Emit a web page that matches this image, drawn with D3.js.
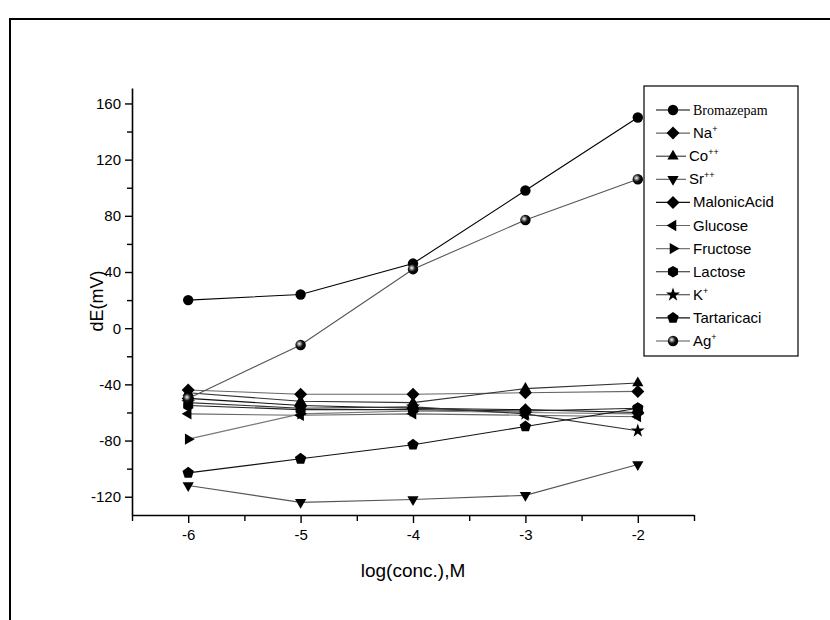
<!DOCTYPE html>
<html>
<head>
<meta charset="utf-8">
<script src="https://cdn.jsdelivr.net/npm/d3@7"></script>
<style>
  body { margin: 0; background: #fff; }
  svg text { fill: #000; }
</style>
</head>
<body>
<svg id="chart" width="830" height="620"></svg>
<script>
// log concentration (x) and potential change dE in mV for each species
const logConc = [-6, -5, -4, -3, -2];
const bromazepam = [20, 24, 46, 98, 150];
const sodium = [-44, -47, -47, -46, -45];
const cobalt = [-46, -52, -53, -43, -39];
const strontium = [-112, -124, -122, -119, -97];
const malonicAcid = [-50, -55, -57, -58, -60];
const glucose = [-61, -62, -61, -62, -63];
const fructose = [-79, -61, -59, -60, -61];
const lactose = [-55, -58, -58, -59, -57];
const potassium = [-53, -57, -56, -61, -73];
const tartaric = [-103, -93, -83, -70, -57];
const silver = [-50, -12, 42, 77, 106];

const xTicks = [-6, -5, -4, -3, -2];
const yTicks = [-120, -80, -40, 0, 40, 80, 120, 160];

const series = [
  {name: "Bromazepam", sup: "", values: bromazepam, shape: "circle", color: "#000", serif: true},
  {name: "Na", sup: "+", values: sodium, shape: "diamond", color: "#666"},
  {name: "Co", sup: "++", values: cobalt, shape: "triUp", color: "#333", tight: true},
  {name: "Sr", sup: "++", values: strontium, shape: "triDown", color: "#555", tight: true},
  {name: "MalonicAcid", sup: "", values: malonicAcid, shape: "diamond", color: "#111"},
  {name: "Glucose", sup: "", values: glucose, shape: "triLeft", color: "#666"},
  {name: "Fructose", sup: "", values: fructose, shape: "triRight", color: "#777"},
  {name: "Lactose", sup: "", values: lactose, shape: "hexagon", color: "#222"},
  {name: "K", sup: "+", values: potassium, shape: "star", color: "#333"},
  {name: "Tartaricaci", sup: "", values: tartaric, shape: "pentagon", color: "#111"},
  {name: "Ag", sup: "+", values: silver, shape: "sphere", color: "#555"}
];

const sans = "'Liberation Sans', Arial, sans-serif";
const serif = "'Liberation Serif', 'Times New Roman', serif";

const svg = d3.select("#chart");

// outer frame (cut by the page edge on the right and bottom)
svg.append("rect").attr("x", 10).attr("y", 19).attr("width", 900).attr("height", 700)
  .attr("fill", "none").attr("stroke", "#000").attr("stroke-width", 2);

const defs = svg.append("defs");
const grad = defs.append("radialGradient").attr("id", "ball").attr("cx", "38%").attr("cy", "38%").attr("r", "62%");
grad.append("stop").attr("offset", "0%").attr("stop-color", "#fff");
grad.append("stop").attr("offset", "22%").attr("stop-color", "#999");
grad.append("stop").attr("offset", "55%").attr("stop-color", "#111");
grad.append("stop").attr("offset", "100%").attr("stop-color", "#000");

const x = d3.scaleLinear().domain([-6.5, -1.5]).range([132, 694]);
const y = d3.scaleLinear().domain([-133, 171]).range([515, 88]);

function polygon(n, r, start) {
  const pts = d3.range(n).map(i => {
    const a = (start + i * 360 / n) * Math.PI / 180;
    return [r * Math.cos(a), r * Math.sin(a)];
  });
  return "M" + pts.map(p => p.join(",")).join("L") + "Z";
}

function markerPath(shape) {
  switch (shape) {
    case "circle":
    case "sphere": return d3.symbol(d3.symbolCircle, 85)();
    case "diamond": return polygon(4, 6.5, -90);
    case "triUp": return polygon(3, 6.5, -90);
    case "triDown": return polygon(3, 6.5, 90);
    case "triLeft": return polygon(3, 6.5, 180);
    case "triRight": return polygon(3, 6.5, 0);
    case "hexagon": return polygon(6, 5.8, -90);
    case "pentagon": return polygon(5, 6, -90);
    case "star": return d3.symbol(d3.symbolStar, 60)();
  }
}

function markerFill(shape) {
  return shape === "sphere" ? "url(#ball)" : "#000";
}

const hyphen = d => String(d).replace("\u2212", "-");

// axes
const xAxis = svg.append("g").attr("transform", "translate(0,515)");
xAxis.call(d3.axisBottom(x).tickValues(xTicks).tickSize(8).tickSizeOuter(0).tickPadding(6).tickFormat(hyphen));
xAxis.append("g").call(d3.axisBottom(x).tickValues(d3.range(-6.5, -1.4, 1)).tickSize(6).tickFormat(""))
  .select(".domain").remove();

const yAxis = svg.append("g").attr("transform", "translate(132,0)");
yAxis.call(d3.axisLeft(y).tickValues(yTicks).tickSize(7).tickSizeOuter(0).tickPadding(4).tickFormat(hyphen));
yAxis.append("g").call(d3.axisLeft(y).tickValues([-100, -60, -20, 20, 60, 100, 140]).tickSize(5).tickFormat(""))
  .select(".domain").remove();

svg.selectAll(".domain").attr("stroke", "#000").attr("stroke-width", 1.6);
svg.selectAll(".tick line").attr("stroke", "#000").attr("stroke-width", 1.4);
svg.selectAll(".tick text").attr("font-size", 15).style("font-family", sans).attr("fill", "#000");

svg.append("text").attr("x", 413).attr("y", 577).attr("text-anchor", "middle")
  .attr("font-size", 19).style("font-family", sans).text("log(conc.),M");
svg.append("text").attr("transform", "translate(103,301) rotate(-90)").attr("text-anchor", "middle")
  .attr("font-size", 18).style("font-family", sans).text("dE(mV)");

// lines
const line = d3.line().x((d, i) => x(logConc[i])).y(d => y(d));
const plot = svg.append("g");
plot.selectAll("path.series").data(series).enter().append("path")
  .attr("class", "series")
  .attr("d", s => line(s.values))
  .attr("fill", "none")
  .attr("stroke", s => s.color)
  .attr("stroke-width", 1.1);

// markers
series.forEach(s => {
  plot.selectAll(null).data(s.values).enter().append("path")
    .attr("d", markerPath(s.shape))
    .attr("transform", (d, i) => `translate(${x(logConc[i])},${y(d)})`)
    .attr("fill", markerFill(s.shape));
});

// legend
const legend = svg.append("g");
legend.append("rect").attr("x", 644).attr("y", 86).attr("width", 154).attr("height", 270)
  .attr("fill", "#fff").attr("stroke", "#000").attr("stroke-width", 1.2);

const rowY = d3.scaleLinear().domain([0, series.length - 1]).range([110, 341]);
series.forEach((s, i) => {
  const ly = rowY(i);
  const lineEnd = s.tight ? 686 : 690;
  legend.append("line").attr("x1", 656).attr("x2", lineEnd).attr("y1", ly).attr("y2", ly)
    .attr("stroke", s.color).attr("stroke-width", 1.1);
  legend.append("path").attr("d", markerPath(s.shape))
    .attr("transform", `translate(673,${ly})`).attr("fill", markerFill(s.shape));
  const t = legend.append("text").attr("x", lineEnd + 3).attr("y", ly + 5)
    .attr("font-size", s.serif ? 14 : 15)
    .style("font-family", s.serif ? serif : sans);
  t.append("tspan").text(s.name);
  if (s.sup) t.append("tspan").attr("font-size", 9).attr("dy", -6).text(s.sup);
});
</script>
</body>
</html>
